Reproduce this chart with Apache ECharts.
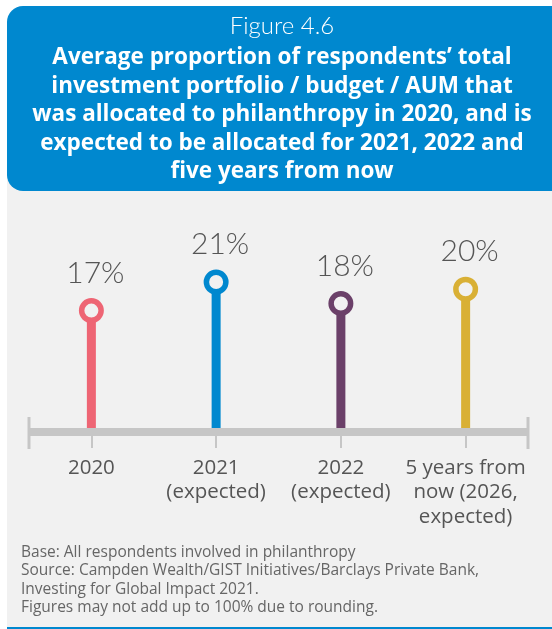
<!DOCTYPE html>
<html>
<head>
<meta charset="utf-8">
<script src="https://cdn.jsdelivr.net/npm/echarts@6/dist/echarts.min.js"></script>
<style>
  html, body { margin: 0; padding: 0; background: #ffffff; }
  #chart { width: 552px; height: 629px; }
</style>
</head>
<body>
<div id="chart"></div>
<script>
// ---- data ----
const categories = ['2020', '2021\n(expected)', '2022\n(expected)', '5 years from\nnow (2026,\nexpected)'];
const values = [17, 21, 18, 20];
const figureLabel = 'Figure 4.6';
const titleLines = [
  'Average proportion of respondents\u2019 total',
  'investment portfolio / budget / AUM that',
  'was allocated to philanthropy in 2020, and is',
  'expected to be allocated for 2021, 2022 and',
  'five years from now'
];
const footerLines = [
  'Base: All respondents involved in philanthropy',
  'Source: Campden Wealth/GIST Initiatives/Barclays Private Bank,',
  'Investing for Global Impact 2021.',
  'Figures may not add up to 100% due to rounding.'
];

// ---- styles ----
const palette = ['#EE6574', '#0088CF', '#6B4069', '#D9B035'];
const panelColor = '#F1F1F1';
const axisColor = '#C6C6C6';
const FONT = '"Open Sans", Lato, sans-serif';
const LFONT = 'Lato, "Open Sans", sans-serif';

const W = 552, H = 629;
const gridLeft = 29, gridRight = 24;
const axisY = 432;           // y pixel of value 0 (axis line)
const yMax = 30;
const pxPerUnit = 7.14;
const gridBottom = H - axisY;
const gridTop = axisY - yMax * pxPerUnit;

const chart = echarts.init(document.getElementById('chart'), null, { renderer: 'canvas' });

const option = {
  backgroundColor: '#ffffff',
  animation: false,
  grid: { left: gridLeft, right: gridRight, top: gridTop, bottom: gridBottom, containLabel: false },
  xAxis: {
    type: 'category',
    data: categories,
    boundaryGap: true,
    z: 5,
    axisLine: { show: true, lineStyle: { color: axisColor, width: 8, cap: 'butt' } },
    axisTick: { show: true, alignWithLabel: true, length: 16, lineStyle: { color: axisColor, width: 2 } },
    axisLabel: {
      show: true, interval: 0, margin: 23.5,
      color: '#555555', fontFamily: FONT, fontSize: 20.5, lineHeight: 24.5, align: 'center'
    },
    splitLine: { show: false }
  },
  yAxis: {
    type: 'value', min: 0, max: yMax, show: false,
    splitLine: { show: false }
  },
  graphic: [
    // gray panel
    { type: 'rect', z: -10, shape: { x: 7, y: 180, width: W - 7, height: 447 }, style: { fill: panelColor } },
    // bottom blue rule
    { type: 'rect', z: -9, shape: { x: 7, y: 627, width: W - 7, height: 2 }, style: { fill: '#0088CF' } },
    // header box
    { type: 'rect', z: -8, shape: { x: 7, y: 6, width: W - 7 + 20, height: 185, r: [16, 16, 16, 16] }, style: { fill: '#0088CF' } },
    // end ticks of the axis
    { type: 'line', z: 10, shape: { x1: gridLeft, y1: 417, x2: gridLeft, y2: 449 }, style: { stroke: axisColor, lineWidth: 3 } },
    { type: 'line', z: 10, shape: { x1: W - gridRight, y1: 417, x2: W - gridRight, y2: 449 }, style: { stroke: axisColor, lineWidth: 3 } },
    // header texts
    { type: 'text', z: 20, style: { text: figureLabel, x: 282, y: 26, textAlign: 'center', textVerticalAlign: 'middle',
        fill: '#ffffff', font: '300 24px ' + LFONT } },
    { type: 'text', z: 20, style: { text: titleLines.join('\n'), x: 282, y: 43.5, textAlign: 'center', textVerticalAlign: 'top',
        fill: '#ffffff', font: 'bold 22.5px ' + FONT, lineHeight: 28.5 } },
    // footer
    { type: 'text', z: 20, style: { text: footerLines.join('\n'), x: 21, y: 543.5, textAlign: 'left', textVerticalAlign: 'top',
        fill: '#666666', font: '15.5px ' + FONT, lineHeight: 18.3 } }
  ],
  series: [
    {
      type: 'bar',
      barWidth: 9,
      z: 2,
      data: values.map((v, i) => ({ value: v, itemStyle: { color: palette[i] } })),
      silent: true
    },
    {
      type: 'scatter',
      z: 3,
      symbol: 'circle',
      symbolSize: 19.5,
      data: values.map((v, i) => ({ value: v, itemStyle: { color: panelColor, borderColor: palette[i], borderWidth: 5.5, opacity: 1 } })),
      label: {
        show: true, position: 'top', distance: 10, offset: [4, 0],
        formatter: p => p.value + '%',
        color: '#555555', fontFamily: LFONT, fontSize: 30, fontWeight: 300
      },
      silent: true
    }
  ]
};
chart.setOption(option);
</script>
</body>
</html>
